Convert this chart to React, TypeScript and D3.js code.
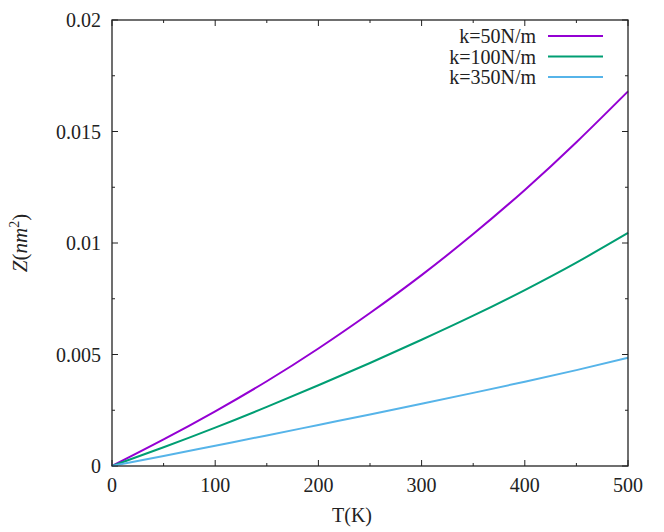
import { useEffect, useRef } from 'react';
import * as d3 from 'd3';

// temperatures (K) sampled along the curves
const temps = [0, 50, 100, 150, 200, 250, 300, 350, 400, 450, 500];

// Z (nm^2) for each spring constant
const zK50 = [0, 0.00119, 0.00245, 0.0038, 0.00527, 0.00686, 0.00856, 0.0104, 0.01238, 0.01452, 0.0168];
const zK100 = [0, 0.00084, 0.00172, 0.00265, 0.00362, 0.00462, 0.00566, 0.00674, 0.00789, 0.00912, 0.01045];
const zK350 = [0, 0.00045, 0.00091, 0.00137, 0.00184, 0.00231, 0.00279, 0.00328, 0.00378, 0.0043, 0.00485];

const seriesNames = ['k=50N/m', 'k=100N/m', 'k=350N/m'];
const seriesColors = ['#9400d3', '#009e73', '#56b4e9'];

const xMajor = [0, 100, 200, 300, 400, 500];
const xMinor = [50, 150, 250, 350, 450];
const yMajor = [0, 0.005, 0.01, 0.015, 0.02];
const yMinor = [0.0025, 0.0075, 0.0125, 0.0175];
const yLabels = ['0', '0.005', '0.01', '0.015', '0.02'];

const W = 664;
const H = 532;

export default function App() {
  const svgRef = useRef<SVGSVGElement>(null);

  useEffect(() => {
    document.body.style.margin = '0';
    if (!svgRef.current) return;

    const margin = { top: 20, right: 36, bottom: 66, left: 112 };
    const width = W - margin.left - margin.right;
    const height = H - margin.top - margin.bottom;
    const font = '"Liberation Serif", "DejaVu Serif", serif';

    const root = d3.select(svgRef.current);
    root.selectAll('*').remove();

    const svg = root.append('g').attr('transform', `translate(${margin.left},${margin.top})`);

    const x = d3.scaleLinear().domain([0, 500]).range([0, width]);
    const y = d3.scaleLinear().domain([0, 0.02]).range([height, 0]);

    // ticks on all four sides, pointing inwards
    const tickG = svg.append('g').attr('stroke', '#222').attr('stroke-width', 1);
    const ticks = (vals: number[], len: number) => {
      vals.forEach(v => {
        tickG.append('line').attr('x1', x(v)).attr('x2', x(v)).attr('y1', height).attr('y2', height - len);
        tickG.append('line').attr('x1', x(v)).attr('x2', x(v)).attr('y1', 0).attr('y2', len);
      });
    };
    ticks(xMajor, 6);
    ticks(xMinor, 3);
    const yticks = (vals: number[], len: number) => {
      vals.forEach(v => {
        tickG.append('line').attr('x1', 0).attr('x2', len).attr('y1', y(v)).attr('y2', y(v));
        tickG.append('line').attr('x1', width).attr('x2', width - len).attr('y1', y(v)).attr('y2', y(v));
      });
    };
    yticks(yMajor, 6);
    yticks(yMinor, 3);

    // tick labels
    svg.selectAll('.xlab')
      .data(xMajor)
      .enter()
      .append('text')
      .attr('x', d => x(d))
      .attr('y', height + 26)
      .attr('text-anchor', 'middle')
      .style('font-family', font)
      .style('font-size', '20px')
      .style('fill', '#222')
      .text(d => String(d));

    svg.selectAll('.ylab')
      .data(yMajor)
      .enter()
      .append('text')
      .attr('x', -11)
      .attr('y', d => y(d))
      .attr('dy', '0.35em')
      .attr('text-anchor', 'end')
      .style('font-family', font)
      .style('font-size', '20px')
      .style('fill', '#222')
      .text((d, i) => yLabels[i]);

    // axis titles
    svg.append('text')
      .attr('x', 352 - margin.left)
      .attr('y', height + 56)
      .attr('text-anchor', 'middle')
      .style('font-family', font)
      .style('font-size', '20px')
      .style('fill', '#222')
      .text('T(K)');

    const ytitle = svg.append('text')
      .attr('transform', `translate(${27 - margin.left},${height / 2}) rotate(-90)`)
      .attr('text-anchor', 'middle')
      .style('font-family', font)
      .style('font-size', '21px')
      .style('fill', '#222');
    ytitle.append('tspan').style('font-style', 'italic').text('Z');
    ytitle.append('tspan').text('(');
    ytitle.append('tspan').style('font-style', 'italic').text('nm');
    ytitle.append('tspan').attr('dy', -8).style('font-size', '14px').text('2');
    ytitle.append('tspan').attr('dy', 8).text(')');

    // curves
    const line = d3.line<number>()
      .x((d, i) => x(temps[i]))
      .y(d => y(d))
      .curve(d3.curveNatural);

    [zK50, zK100, zK350].forEach((vals, i) => {
      svg.append('path')
        .attr('d', line(vals) || '')
        .attr('fill', 'none')
        .attr('stroke', seriesColors[i])
        .attr('stroke-width', 2);
    });

    // frame
    svg.append('rect')
      .attr('width', width)
      .attr('height', height)
      .attr('fill', 'none')
      .attr('stroke', '#222')
      .attr('stroke-width', 1.3);

    // legend
    const legend = svg.append('g');
    seriesNames.forEach((name, i) => {
      const ly = 16 + i * 20.5;
      legend.append('text')
        .attr('x', 536 - margin.left)
        .attr('y', ly)
        .attr('dy', '0.35em')
        .attr('text-anchor', 'end')
        .style('font-family', font)
        .style('font-size', '20px')
        .style('fill', '#222')
        .text(name);
      legend.append('line')
        .attr('x1', 548 - margin.left)
        .attr('x2', 603 - margin.left)
        .attr('y1', ly)
        .attr('y2', ly)
        .attr('stroke', seriesColors[i])
        .attr('stroke-width', 2);
    });
  }, []);

  return <svg ref={svgRef} width={W} height={H} style={{ display: 'block', background: '#fff' }} />;
}
